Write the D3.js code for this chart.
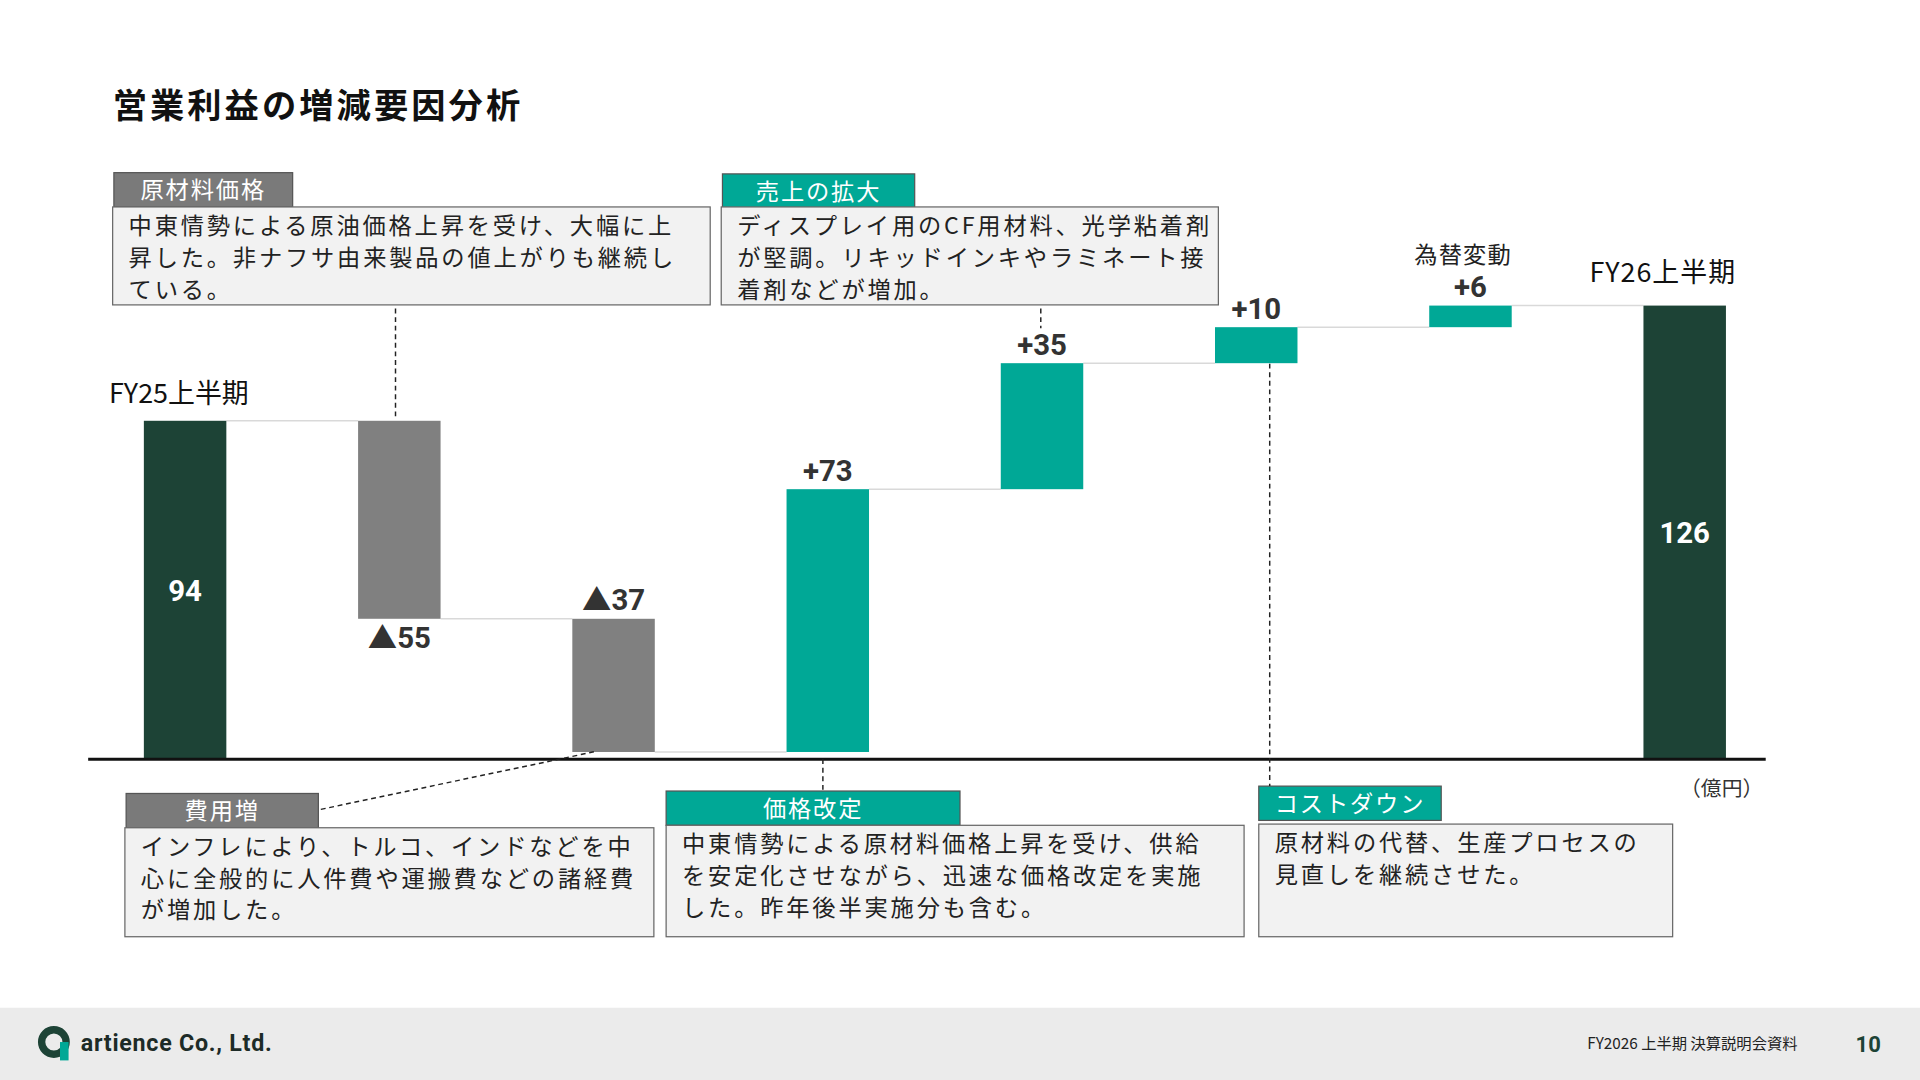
<!DOCTYPE html>
<html><head><meta charset="utf-8">
<script src="https://cdn.jsdelivr.net/npm/d3@7"></script>
<style>body{margin:0;background:#fff}svg{display:block}</style>
</head><body>
<svg id="c" width="1920" height="1080" viewBox="0 0 1568 882"></svg>
<script>
// waterfall data (億円)
const steps = ["FY25上半期", "原材料価格", "費用増", "価格改定", "売上の拡大", "コストダウン", "為替変動", "FY26上半期"];
const deltas = [94, -55, -37, 73, 35, 10, 6, 126];
const kinds = ["total", "down", "down", "up", "up", "up", "up", "total"];
const valueLabels = ["94", "▲55", "▲37", "+73", "+35", "+10", "+6", "126"];

const FONT = "'Noto Sans CJK JP','Noto Sans',sans-serif";
const C = { total: "#1d4336", down: "#808080", up: "#00a896" };
const svg = d3.select("#c").style("font-family", FONT);

svg.append("text").attr("x", 92).attr("y", 96).attr("font-size", 28).attr("font-weight", 700)
  .attr("letter-spacing", 2.5).attr("fill", "#111").text("営業利益の増減要因分析");

// build bars
let run = 0;
const bars = steps.map((s, i) => {
  let y0, y1;
  if (kinds[i] === "total") { y0 = 0; y1 = deltas[i]; run = deltas[i]; }
  else { y0 = run; y1 = run + deltas[i]; run = y1; }
  return { s, i, lo: Math.min(y0, y1), hi: Math.max(y0, y1), end: y1, kind: kinds[i], label: valueLabels[i] };
});

const x = d3.scaleBand().domain(steps).range([65, 1462]).paddingInner(0.615).paddingOuter(0.3);
const y = d3.scaleLinear().domain([0, 150]).range([620, 179]);
const bw = x.bandwidth();

// connectors
svg.selectAll(".conn").data(bars.slice(0, -1)).join("line")
  .attr("x1", d => x(d.s) + bw).attr("x2", d => x(steps[d.i + 1]))
  .attr("y1", d => y(d.end)).attr("y2", d => y(d.end))
  .attr("stroke", "#d9d9d9").attr("stroke-width", 1.2);

svg.selectAll(".bar").data(bars).join("rect")
  .attr("x", d => x(d.s)).attr("width", bw)
  .attr("y", d => y(d.hi)).attr("height", d => y(d.lo) - y(d.hi))
  .attr("fill", d => C[d.kind]);

// axis baseline
svg.append("line").attr("x1", 72).attr("x2", 1442).attr("y1", y(0)).attr("y2", y(0))
  .attr("stroke", "#111").attr("stroke-width", 2.5);
svg.append("text").attr("x", 1440).attr("y", 650).attr("text-anchor", "end").attr("font-size", 17)
  .attr("fill", "#333").text("（億円）");

// value labels
svg.selectAll(".vl").data(bars).join("text")
  .attr("x", d => x(d.s) + bw / 2)
  .attr("y", d => d.kind === "total" ? y(d.hi / 2) + 9
    : d.i === 1 ? y(d.lo) + 24 : y(d.hi) - 7)
  .attr("text-anchor", "middle").attr("font-family", "Roboto,'Noto Sans CJK JP',sans-serif")
  .attr("font-weight", 700).attr("font-size", 24)
  .attr("fill", d => d.kind === "total" ? "#fff" : "#333")
  .text(d => d.label);

// total names
svg.append("text").attr("x", 89).attr("y", 329).attr("font-size", 22).attr("fill", "#111").text("FY25上半期");
svg.append("text").attr("x", 1298).attr("y", 230).attr("font-size", 22).attr("letter-spacing", 0.8).attr("fill", "#111").text("FY26上半期");
svg.append("text").attr("x", x("為替変動") + bw / 2 - 6).attr("y", 215).attr("text-anchor", "middle")
  .attr("font-size", 19).attr("letter-spacing", 1).attr("fill", "#222").text("為替変動");

// annotation boxes
const notes = [
  { head: "原材料価格", hx: 93, hy: 141, hw: 146, bx: 92, by: 169, bw: 488, bh: 80, col: "#7a7a7a",
    lines: ["中東情勢による原油価格上昇を受け、大幅に上", "昇した。非ナフサ由来製品の値上がりも継続し", "ている。"] },
  { head: "売上の拡大", hx: 590, hy: 142, hw: 157, bx: 589, by: 169, bw: 406, bh: 80, col: "#00a896",
    lines: ["ディスプレイ用のCF用材料、光学粘着剤", "が堅調。リキッドインキやラミネート接", "着剤などが増加。"] },
  { head: "費用増", hx: 103, hy: 648, hw: 157, bx: 102, by: 676, bw: 432, bh: 89, col: "#7a7a7a",
    lines: ["インフレにより、トルコ、インドなどを中", "心に全般的に人件費や運搬費などの諸経費", "が増加した。"] },
  { head: "価格改定", hx: 544, hy: 646, hw: 240, bx: 544, by: 674, bw: 472, bh: 91, col: "#00a896",
    lines: ["中東情勢による原材料価格上昇を受け、供給", "を安定化させながら、迅速な価格改定を実施", "した。昨年後半実施分も含む。"] },
  { head: "コストダウン", hx: 1028, hy: 642, hw: 149, bx: 1028, by: 673, bw: 338, bh: 92, col: "#00a896",
    lines: ["原材料の代替、生産プロセスの", "見直しを継続させた。"] }
];
notes.forEach(n => {
  const g = svg.append("g");
  g.append("rect").attr("x", n.hx).attr("y", n.hy).attr("width", n.hw).attr("height", 28)
    .attr("fill", n.col).attr("stroke", "#555").attr("stroke-width", 1);
  g.append("text").attr("x", n.hx + n.hw / 2).attr("y", n.hy + 21).attr("text-anchor", "middle")
    .attr("font-size", 19).attr("letter-spacing", 1.5).attr("fill", "#fff").text(n.head);
  g.append("rect").attr("x", n.bx).attr("y", n.by).attr("width", n.bw).attr("height", n.bh)
    .attr("fill", "#f2f2f2").attr("stroke", "#666").attr("stroke-width", 1);
  n.lines.forEach((t, k) => g.append("text").attr("x", n.bx + 13).attr("y", n.by + 22 + k * 26)
    .attr("font-size", 19).attr("letter-spacing", 2.3).attr("fill", "#222").text(t));
});

// leader lines
const cx = s => x(s) + bw / 2;
const leaders = [
  [323, 252, 323, 343], [cx("売上の拡大") - 1, 252, cx("売上の拡大") - 1, 268],
  [262, 661, 485, 614], [cx("価格改定") - 4, 620, cx("価格改定") - 4, 646],
  [cx("コストダウン") + 11, 297, cx("コストダウン") + 11, 642]
];
svg.selectAll(".ld").data(leaders).join("line")
  .attr("x1", d => d[0]).attr("y1", d => d[1]).attr("x2", d => d[2]).attr("y2", d => d[3])
  .attr("stroke", "#222").attr("stroke-width", 1.2).attr("stroke-dasharray", "4,3");

// footer
svg.append("rect").attr("x", 0).attr("y", 823).attr("width", 1568).attr("height", 59).attr("fill", "#ebebeb");
svg.append("circle").attr("cx", 44).attr("cy", 851).attr("r", 10).attr("fill", "none")
  .attr("stroke", "#1d4336").attr("stroke-width", 6);
svg.append("rect").attr("x", 49).attr("y", 851).attr("width", 7).attr("height", 15).attr("fill", "#00a896");
svg.append("text").attr("x", 66).attr("y", 858).attr("font-family", "Roboto,sans-serif").attr("font-weight", 700)
  .attr("font-size", 19).attr("letter-spacing", 0.6).attr("fill", "#1d2b27").text("artience Co., Ltd.");
svg.append("text").attr("x", 1468).attr("y", 857).attr("text-anchor", "end").attr("font-size", 12.5)
  .attr("fill", "#222").text("FY2026 上半期 決算説明会資料");
svg.append("text").attr("x", 1536).attr("y", 859).attr("text-anchor", "end").attr("font-family", "Roboto,sans-serif")
  .attr("font-weight", 700).attr("font-size", 18).attr("fill", "#1d4336").text("10");
</script>
</body></html>
